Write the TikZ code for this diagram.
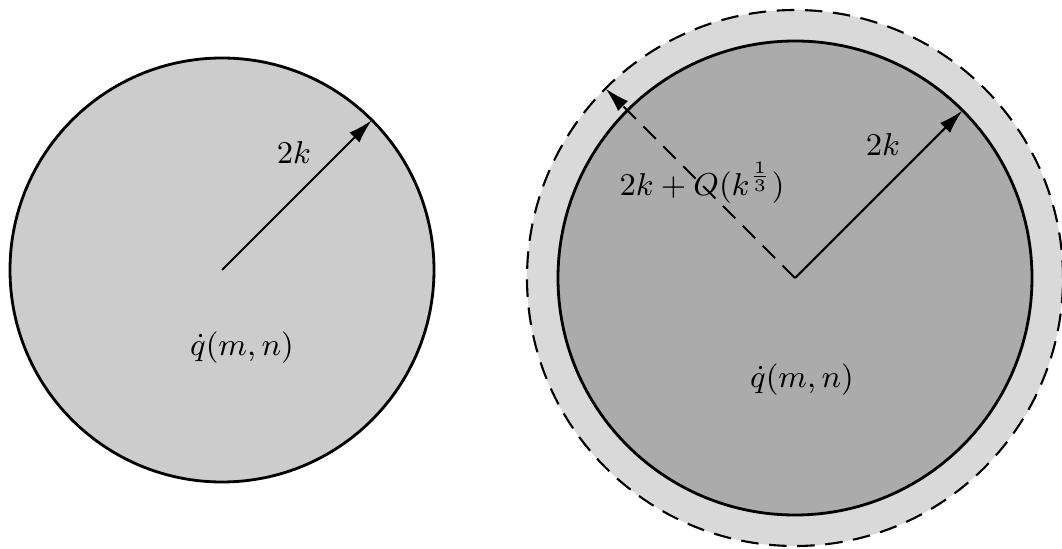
\documentclass[tikz,border=0pt]{standalone}
\usepackage{amsmath,amssymb}
\usetikzlibrary{positioning,arrows.meta,calc}

\begin{document}
\begin{tikzpicture}[
  disc/.style={fill=gray!40, draw, line width=0.8pt},
  disc2/.style={fill=gray!66, draw, line width=0.8pt},
  ring/.style={fill=gray!30, draw, dash pattern=on 5pt off 3pt, line width=0.6pt},
  rad/.style={-{Latex[length=7pt,width=4pt]}, line width=0.6pt},
  lb/.style={font=\small},
]
\useasboundingbox (0,0) rectangle (10.62,5.48);
% left disc: radius 2k
\coordinate (cl) at (2.22,2.78);
\draw[disc] (cl) circle (2.12);
\coordinate (tl) at ($(cl)+(45:2.12)$);
\draw[rad] (cl) -- (tl);
\node[lb] (kl) at (2.94,3.95) {$2k$};
\node[lb] (ql) at (2.42,2.00) {$\dot{q}(m,n)$};
% right disc: 2k inside 2k+O(k^{1/3})
\coordinate (cr) at (7.95,2.70);
\draw[ring] (cr) circle (2.68);
\draw[disc2] (cr) circle (2.37);
\coordinate (tr) at ($(cr)+(45:2.37)$);
\coordinate (to) at ($(cr)+(135:2.68)$);
\draw[rad] (cr) -- (tr);
\draw[rad, dash pattern=on 5pt off 3pt] (cr) -- (to);
\node[lb] (kr) at (8.83,4.03) {$2k$};
\node[lb] (ko) at (7.02,3.65) {$2k+O(k^{\frac{1}{3}})$};
\node[lb] (qr) at (8.02,1.68) {$\dot{q}(m,n)$};
\end{tikzpicture}
\end{document}
